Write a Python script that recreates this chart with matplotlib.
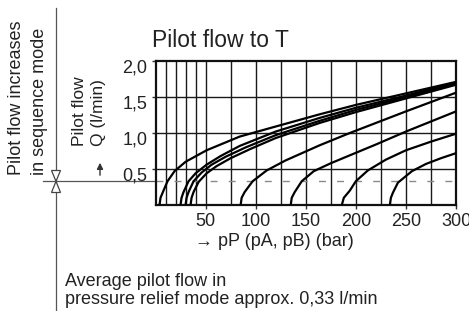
import numpy as np
import matplotlib.pyplot as plt
from matplotlib.patches import Polygon
import matplotlib.transforms as mtransforms

plt.rcParams['font.family'] = ['Liberation Sans', 'DejaVu Sans']

# pilot flow curves: pressure pP (bar) -> pilot flow Q (l/min)
p1 = [4, 5, 8, 12, 19, 30, 51, 84, 120, 164, 200, 250, 300]
q1 = [0, 0.1, 0.2, 0.33, 0.47, 0.60, 0.76, 0.95, 1.09, 1.26, 1.39, 1.55, 1.71]
p2 = [25, 26, 28, 33, 40, 51, 65, 84, 120, 164, 200, 250, 300]
q2 = [0, 0.1, 0.18, 0.33, 0.44, 0.56, 0.68, 0.82, 1.02, 1.21, 1.35, 1.52, 1.70]
p3 = [30, 31, 33, 38, 46, 56, 70, 90, 120, 164, 200, 250, 300]
q3 = [0, 0.1, 0.18, 0.33, 0.45, 0.56, 0.67, 0.80, 0.97, 1.17, 1.32, 1.50, 1.69]
p4 = [35, 36, 38, 43, 51, 61, 75, 95, 120, 164, 200, 250, 300]
q4 = [0, 0.1, 0.18, 0.32, 0.44, 0.54, 0.65, 0.78, 0.93, 1.14, 1.29, 1.48, 1.67]
p5 = [85, 86, 89, 97, 111, 130, 164, 194, 250, 300]
q5 = [0, 0.1, 0.18, 0.33, 0.48, 0.62, 0.83, 1.00, 1.30, 1.56]
p6 = [135, 136, 139, 146, 158, 175, 194, 220, 250, 300]
q6 = [0, 0.1, 0.18, 0.33, 0.47, 0.58, 0.69, 0.84, 1.02, 1.30]
p7 = [186, 188, 194, 200, 212, 230, 250, 275, 300]
q7 = [0, 0.1, 0.2, 0.33, 0.48, 0.63, 0.76, 0.88, 0.99]
p8 = [234, 235, 237, 242, 256, 270, 285, 300]
q8 = [0, 0.1, 0.17, 0.31, 0.47, 0.57, 0.65, 0.72]
curves = [(p1, q1), (p2, q2), (p3, q3), (p4, q4), (p5, q5), (p6, q6), (p7, q7), (p8, q8)]

avg_flow = 0.33

x_ticks = [50, 100, 150, 200, 250, 300]
x_labels = ['50', '100', '150', '200', '250', '300']
y_ticks = [0.5, 1.0, 1.5, 2.0]
y_labels = ['0,5', '1,0', '1,5', '2,0']
grid_x = [10, 20, 30, 40, 50, 75, 100, 125, 150, 175, 200, 225, 250, 275]
grid_y = [0.5, 1.0, 1.5]

W, H = 469, 311
fig = plt.figure(figsize=(W / 100, H / 100), dpi=100)
txt = '#222222'

# overlay in pixel coords for the annotation on the left
ov = fig.add_axes([0, 0, 1, 1])
ov.set_xlim(0, W)
ov.set_ylim(H, 0)
ov.axis('off')

ax = fig.add_axes([155.5 / W, (H - 205) / H, (456 - 155.5) / W, (205 - 61) / H])
ax.set_xlim(0, 300)
ax.set_ylim(0, 2.0)
for gx in grid_x:
    ax.axvline(gx, color='#1a1a1a', lw=1.0, zorder=1)
for gy in grid_y:
    ax.axhline(gy, color='#1a1a1a', lw=1.0, zorder=1)
ax.axhline(avg_flow, color='#8a8a8a', lw=1.0, dashes=(5, 8), zorder=2)
for p, q in curves:
    ax.plot(p, q, color='black', lw=1.6, solid_capstyle='round', zorder=3)

for s in ax.spines.values():
    s.set_linewidth(1.6)
    s.set_color('#111111')

ax.set_xticks(x_ticks)
ax.set_xticklabels(x_labels)
ax.set_yticks(y_ticks)
ax.set_yticklabels(y_labels)
ax.tick_params(axis='both', direction='out', length=3, width=1, labelsize=13,
               labelcolor=txt, color='#333333')
ax.tick_params(axis='y', pad=3)
ax.tick_params(axis='x', pad=3)
shift = mtransforms.ScaledTranslation(0, -5 / 100, fig.dpi_scale_trans)
for lab in ax.get_yticklabels():
    lab.set_transform(lab.get_transform() + shift)

fig.text(151.5 / W, 1 - 47 / H, 'Pilot flow to T', fontsize=16.5, color=txt,
         ha='left', va='baseline')
fig.text(195 / W, 1 - 241 / H, '→ pP (pA, pB) (bar)', fontsize=13, color=txt,
         ha='left', va='center')

# left annotation
ov.plot([56, 56], [8, H], color='#555555', lw=0.9)
ov.plot([43, 155], [181.3, 181.3], color='#555555', lw=0.9)
ov.add_patch(Polygon([(51.5, 170.5), (60.5, 170.5), (56, 181.3)], closed=True,
                     facecolor='white', edgecolor='#444444', lw=0.9, zorder=3))
ov.add_patch(Polygon([(51.5, 192.5), (60.5, 192.5), (56, 181.3)], closed=True,
                     facecolor='white', edgecolor='#444444', lw=0.9, zorder=3))
ov.annotate('', xy=(100, 160), xytext=(100, 178),
            arrowprops=dict(arrowstyle='-|>', lw=1.0, color='#333333', mutation_scale=9))

ov.text(17, 175, 'Pilot flow increases', rotation=90, fontsize=13, color=txt,
        ha='center', va='bottom')
ov.text(40, 175, 'in sequence mode', rotation=90, fontsize=13, color=txt,
        ha='center', va='bottom')
ov.text(79, 146, 'Pilot flow', rotation=90, fontsize=12.5, color=txt,
        ha='center', va='bottom')
ov.text(98, 146, 'Q (l/min)', rotation=90, fontsize=12.5, color=txt,
        ha='center', va='bottom')
ov.text(65, 282, 'Average pilot flow in', fontsize=13, color=txt, ha='left', va='center')
ov.text(65, 300, 'pressure relief mode approx. 0,33 l/min', fontsize=13, color=txt,
        ha='left', va='center')

fig.savefig('out.png', dpi=100)
